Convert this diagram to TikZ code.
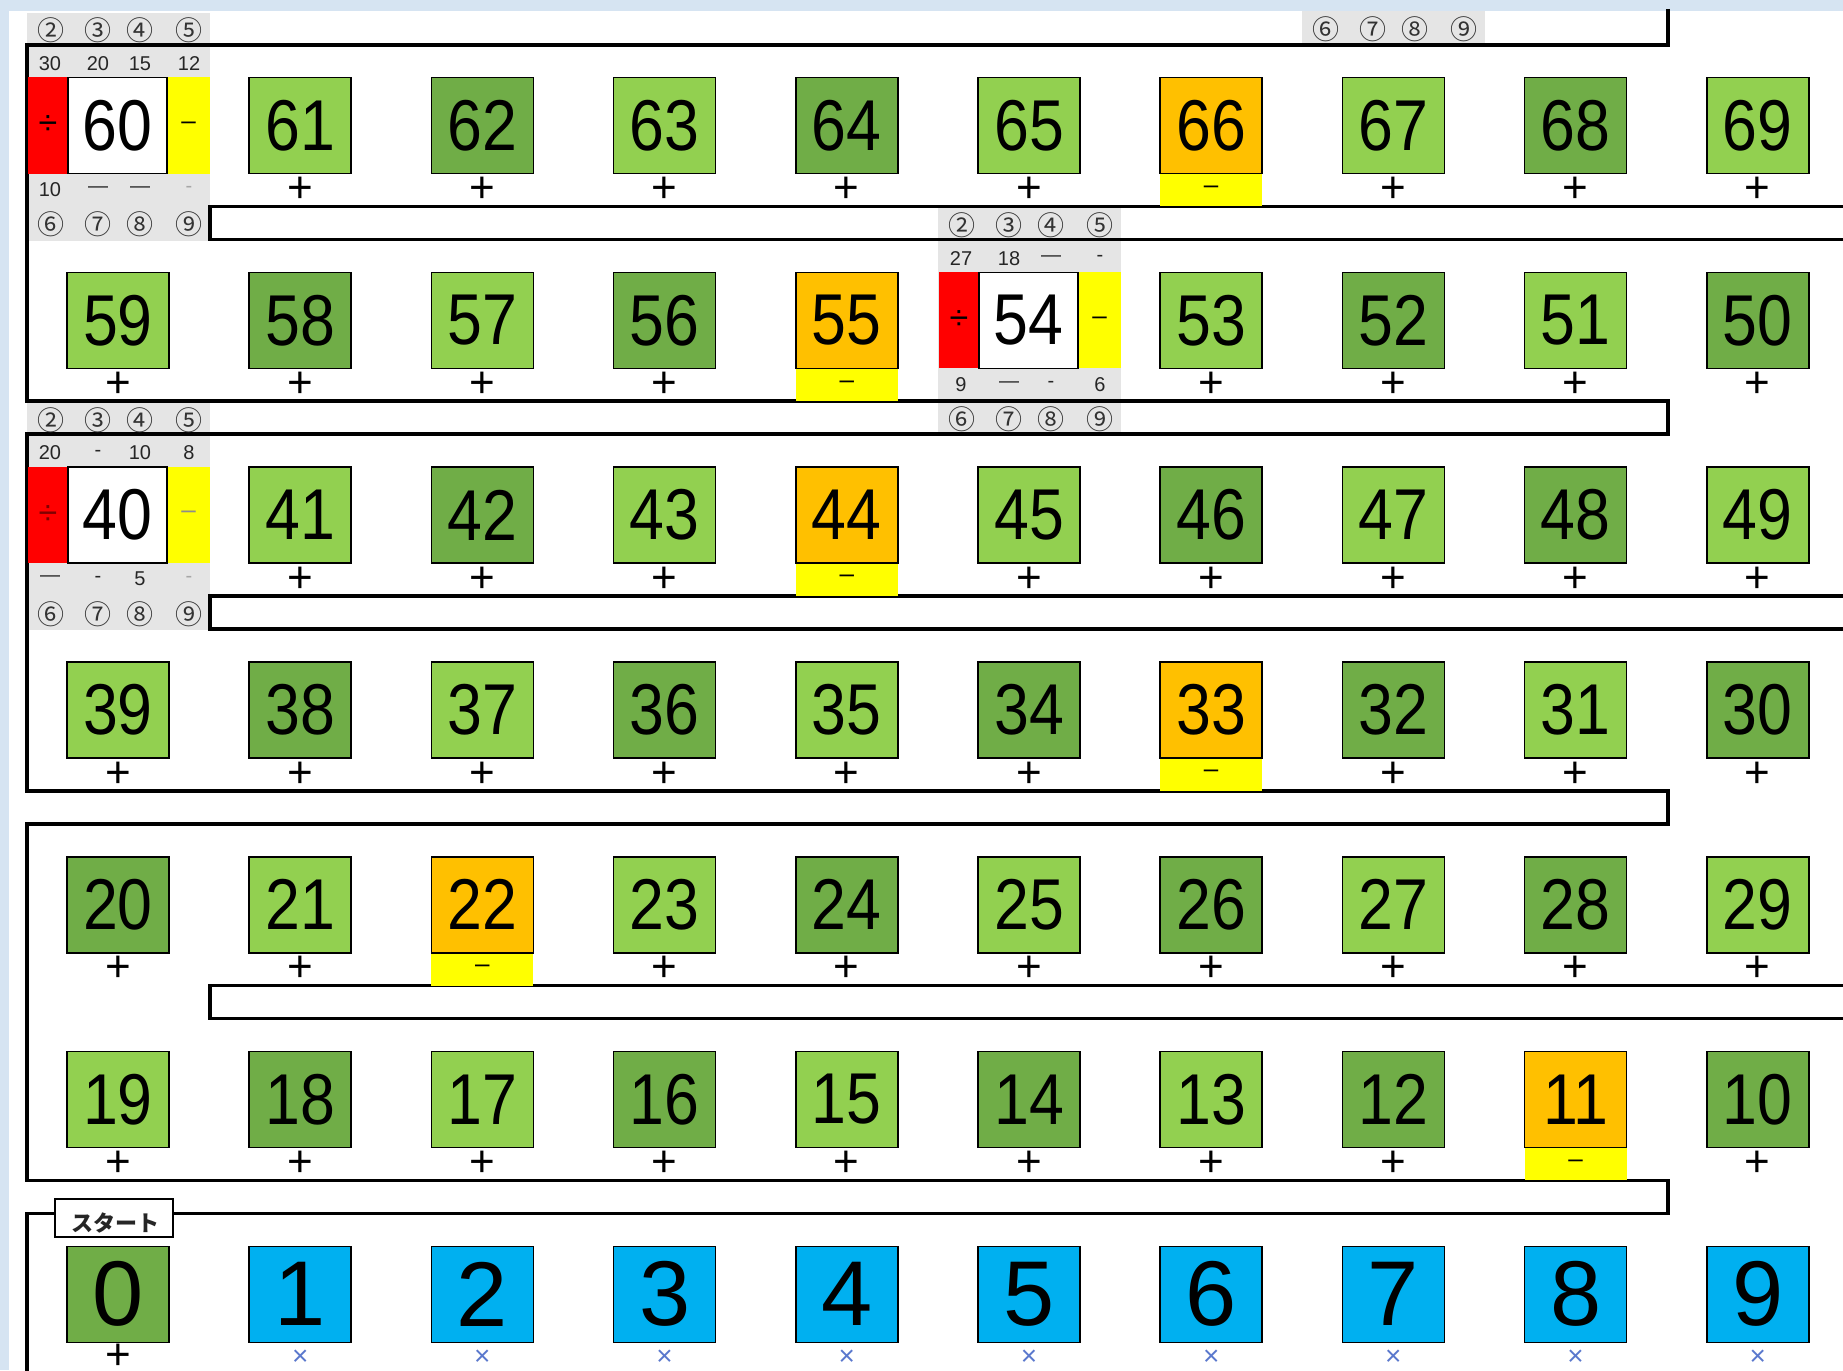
\documentclass[tikz,border=0pt]{standalone}
\usepackage{fontspec}
\setmainfont{Liberation Sans}
\newfontfamily\cjk{Noto Sans CJK JP}
\newfontfamily\numnarrow[FakeStretch=0.87]{Liberation Sans}
\definecolor{lgreen}{RGB}{146,208,80}
\definecolor{dgreen}{RGB}{112,173,71}
\definecolor{orng}{RGB}{255,192,0}
\definecolor{yel}{RGB}{255,255,0}
\definecolor{skyb}{RGB}{0,176,240}
\definecolor{greyb}{RGB}{229,229,229}
\definecolor{bgblue}{RGB}{214,228,242}
\definecolor{xblue}{RGB}{90,120,205}
\definecolor{redb}{RGB}{255,0,0}
\tikzset{
  numbox/.style={draw=black, line width=1.6pt, minimum width=102pt, minimum height=96pt, inner sep=0pt, font=\numnarrow\fontsize{72}{72}\selectfont},
  bignum/.style={font=\fontsize{92}{92}\selectfont},
  plussign/.style={inner sep=0pt, font=\fontsize{44}{44}\selectfont},
  timessign/.style={inner sep=0pt, text=xblue, font=\fontsize{28}{28}\selectfont},
  minussign/.style={inner sep=0pt, font=\fontsize{26}{26}\selectfont},
  divsign/.style={inner sep=0pt, font=\fontsize{34}{34}\selectfont},
  circnum/.style={inner sep=0pt, text=black!80, font=\cjk\fontsize{27}{27}\selectfont},
  smallnum/.style={inner sep=0pt, text=black!85, font=\fontsize{20}{20}\selectfont},
  wall/.style={draw=black, line width=3.5pt, line join=miter},
}
\newcommand\zzgrey[2]{\fill[greyb] ({#1-91},{max(11,#2-112)}) rectangle ({#1+92},{#2+115});}
\newcommand\zzbody[6]{%
  \fill[redb] ({#2-90},{#3-48}) rectangle ({#2-50},{#3+48});
  \fill[yel] ({#2+49},{#3-48}) rectangle ({#2+92},{#3+48});
  \node[numbox, fill=white, minimum width=99pt] (#1) at ({#2-0.5},#3) {#4};
  \node[divsign, text=#5] (#1div) at ({#2-70},#3) {÷};
  \node[minussign, text=#6] (#1sub) at ({#2+70.5},#3) {–};
}
\newcommand\zztop[7]{%
  \node[smallnum] (#1ta) at ({#2-68},{#3-62}) {#4};
  \node[smallnum] (#1tb) at ({#2-20},{#3-62}) {#5};
  \node[smallnum] (#1tc) at ({#2+22},{#3-62}) {#6};
  \node[smallnum] (#1td) at ({#2+71},{#3-62}) {#7};
}
\newcommand\zzbot[7]{%
  \node[smallnum] (#1ba) at ({#2-68},{#3+64}) {#4};
  \node[smallnum] (#1bb) at ({#2-20},{#3+64}) {#5};
  \node[smallnum] (#1bc) at ({#2+22},{#3+64}) {#6};
  \node[smallnum] (#1bd) at ({#2+71},{#3+64}) {#7};
}
\newcommand\zzcirctop[3]{%
  \node[circnum] (#1ca) at ({#2-67},{#3-95}) {②};
  \node[circnum] (#1cb) at ({#2-20},{#3-95}) {③};
  \node[circnum] (#1cc) at ({#2+22},{#3-95}) {④};
  \node[circnum] (#1cd) at ({#2+71},{#3-95}) {⑤};
}
\newcommand\zzcircbot[3]{%
  \node[circnum] (#1ce) at ({#2-67},{#3+99}) {⑥};
  \node[circnum] (#1cf) at ({#2-20},{#3+99}) {⑦};
  \node[circnum] (#1cg) at ({#2+22},{#3+99}) {⑧};
  \node[circnum] (#1ch) at ({#2+71},{#3+99}) {⑨};
}
\begin{document}
\begin{tikzpicture}[x=1pt,y=-1pt]
\useasboundingbox (0,0) rectangle (1843,1370);
\fill[bgblue] (0,0) rectangle (1843,1370);
\fill[white] (9,11) rectangle (1843,1370);
% grey label areas
\zzgrey{118}{125.5}
\zzgrey{1029}{320.3}
\zzgrey{118}{515.1}
\fill[greyb] (1302,11) rectangle (1485,44);
% walls
\draw[wall] (1668,9) -- (1668,45) -- (27,45) -- (27,401.2) -- (1668,401.2) -- (1668,434.2) -- (27,434.2)
  -- (27,790.8) -- (1668,790.8) -- (1668,823.8) -- (27,823.8)
  -- (27,1180.4) -- (1668,1180.4) -- (1668,1213.4) -- (27,1213.4) -- (27,1375);
\draw[wall] (1850,206.4) -- (210,206.4) -- (210,239.4) -- (1850,239.4);
\draw[wall] (1850,596) -- (210,596) -- (210,629) -- (1850,629);
\draw[wall] (1850,985.6) -- (210,985.6) -- (210,1018.6) -- (1850,1018.6);
% green boxes
\foreach \n/\c/\r/\col in {61/1/0/lgreen,62/2/0/dgreen,63/3/0/lgreen,64/4/0/dgreen,65/5/0/lgreen,67/7/0/lgreen,68/8/0/dgreen,69/9/0/lgreen,
  59/0/1/lgreen,58/1/1/dgreen,57/2/1/lgreen,56/3/1/dgreen,53/6/1/lgreen,52/7/1/dgreen,51/8/1/lgreen,50/9/1/dgreen,
  41/1/2/lgreen,42/2/2/dgreen,43/3/2/lgreen,45/5/2/lgreen,46/6/2/dgreen,47/7/2/lgreen,48/8/2/dgreen,49/9/2/lgreen,
  39/0/3/lgreen,38/1/3/dgreen,37/2/3/lgreen,36/3/3/dgreen,35/4/3/lgreen,34/5/3/dgreen,32/7/3/dgreen,31/8/3/lgreen,30/9/3/dgreen,
  20/0/4/dgreen,21/1/4/lgreen,23/3/4/lgreen,24/4/4/dgreen,25/5/4/lgreen,26/6/4/dgreen,27/7/4/lgreen,28/8/4/dgreen,29/9/4/lgreen,
  19/0/5/lgreen,18/1/5/dgreen,17/2/5/lgreen,16/3/5/dgreen,15/4/5/lgreen,14/5/5/dgreen,13/6/5/lgreen,12/7/5/dgreen,10/9/5/dgreen}{
  \pgfmathsetmacro\X{118+182.2*\c}
  \pgfmathsetmacro\Y{125.5+194.8*\r}
  \node[numbox, fill=\col] (n\n) at (\X,\Y) {\n};
  \node[plussign] (p\n) at (\X,{\Y+64.5}) {+};
}
% orange boxes (multiples of 11)
\foreach \n/\c/\r in {66/6/0,55/4/1,44/4/2,33/6/3,22/2/4,11/8/5}{
  \pgfmathsetmacro\X{118+182.2*\c}
  \pgfmathsetmacro\Y{125.5+194.8*\r}
  \fill[yel] ({\X-51},{\Y+47}) rectangle ({\X+51},{\Y+80.9});
  \node[numbox, fill=orng] (n\n) at (\X,\Y) {\n};
  \node[minussign] (m\n) at (\X,{\Y+64}) {–};
}
% start row
\node[numbox, bignum, fill=dgreen] (n0) at (118,1294.3) {0};
\node[plussign] (p0) at (118,1357) {+};
\foreach \n in {1,...,9}{
  \pgfmathsetmacro\X{118+182.2*\n}
  \node[numbox, bignum, fill=skyb] (n\n) at (\X,1294.3) {\n};
  \node[timessign] (t\n) at (\X,1358) {×};
}
\node[draw=black, line width=1.5pt, fill=white, minimum width=118pt, minimum height=38pt, inner sep=0pt] (start) at (114,1218) {};
\node[inner sep=0pt, text=black!85, font=\cjk\bfseries\fontsize{22}{22}\selectfont] (starttext) at (115,1223) {スタート};
% special blocks
\zzbody{b60}{118}{125.5}{60}{black}{black}
\zzcirctop{b60}{118}{125.5}
\zztop{b60}{118}{125.5}{30}{20}{15}{12}
\zzbot{b60}{118}{125.5}{10}{—}{—}{\color{black!35}-}
\zzcircbot{b60}{118}{125.5}
\zzbody{b54}{1029}{320.3}{54}{black}{black}
\zzcirctop{b54}{1029}{320.3}
\zztop{b54}{1029}{320.3}{27}{18}{—}{-}
\zzbot{b54}{1029}{320.3}{9}{—}{-}{6}
\zzcircbot{b54}{1029}{320.3}
\zzbody{b40}{118}{515.1}{40}{red!50!black}{black!45}
\zzcirctop{b40}{118}{515.1}
\zztop{b40}{118}{515.1}{20}{-}{10}{8}
\zzbot{b40}{118}{515.1}{—}{-}{5}{\color{black!35}-}
\zzcircbot{b40}{118}{515.1}
\zzcircbot{b70}{1393.4}{-69.3}
\end{tikzpicture}
\end{document}
